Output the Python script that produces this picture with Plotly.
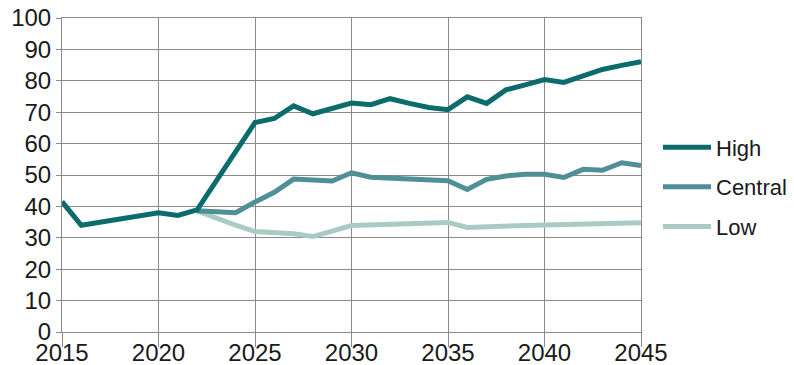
import plotly.graph_objects as go

# Scenario series (index values by year)
years_high = [2015, 2016, 2020, 2021, 2022, 2025, 2026, 2027, 2028, 2029, 2030,
              2031, 2032, 2033, 2034, 2035, 2036, 2037, 2038, 2039, 2040,
              2041, 2042, 2043, 2044, 2045]
high = [41.5, 34.0, 38.0, 37.1, 38.9, 66.7, 68.0, 72.0, 69.5, 71.3, 72.9,
        72.4, 74.3, 72.8, 71.5, 70.8, 74.9, 72.8, 77.1, 78.7, 80.4,
        79.5, 81.6, 83.6, 84.9, 86.1]

years_central = [2022, 2023, 2024, 2025, 2026, 2027, 2028, 2029, 2030, 2031,
                 2035, 2036, 2037, 2038, 2039, 2040, 2041, 2042, 2043, 2044, 2045]
central = [38.6, 38.2, 38.0, 41.4, 44.5, 48.7, 48.5, 48.1, 50.7, 49.3,
           48.2, 45.4, 48.6, 49.7, 50.2, 50.2, 49.2, 51.8, 51.5, 53.9, 53.0]

years_low = [2022, 2023, 2024, 2025, 2026, 2027, 2028, 2029, 2030, 2035,
             2036, 2040, 2045]
low = [38.6, 36.2, 34.0, 32.0, 31.7, 31.3, 30.4, 32.2, 33.9, 34.9,
       33.3, 34.1, 34.8]

x_ticks = [2015, 2020, 2025, 2030, 2035, 2040, 2045]
y_ticks = [0, 10, 20, 30, 40, 50, 60, 70, 80, 90, 100]

GRID = "#8a8a8a"
FONT = "Liberation Sans, Arial, sans-serif"
SIZE = 24

fig = go.Figure()
# Low first so the darker scenarios sit on top
fig.add_trace(go.Scatter(x=years_low, y=low, name="Low", mode="lines",
                         line=dict(color="#a9cbc5", width=5),
                         legendgroup="low", legendrank=3))
fig.add_trace(go.Scatter(x=years_central, y=central, name="Central", mode="lines",
                         line=dict(color="#4f8f95", width=5),
                         legendgroup="central", legendrank=2))
fig.add_trace(go.Scatter(x=years_high, y=high, name="High", mode="lines",
                         line=dict(color="#0b6b6d", width=5),
                         legendgroup="high", legendrank=1))

fig.update_layout(
    width=794, height=365,
    margin=dict(l=62, r=153, t=18, b=33),
    paper_bgcolor="white", plot_bgcolor="white",
    font=dict(family=FONT, size=SIZE, color="#1a1a1a"),
    legend=dict(xref="container", yref="container", x=0.8287, y=0.488,
                xanchor="left", yanchor="middle",
                font=dict(size=22), tracegroupgap=8,
                itemwidth=48, bgcolor="rgba(0,0,0,0)"),
    xaxis=dict(range=[2015, 2045], tickvals=x_ticks, showgrid=True,
               gridcolor=GRID, gridwidth=1, ticks="outside", ticklen=14,
               tickcolor=GRID, showline=True, mirror=True, linecolor=GRID,
               linewidth=1, zeroline=False, tickfont=dict(size=SIZE),
               automargin=False, ticklabelstandoff=-15),
    yaxis=dict(range=[0, 100], tickvals=y_ticks, showgrid=True,
               gridcolor=GRID, gridwidth=1, ticks="outside", ticklen=5,
               tickcolor=GRID, showline=True, mirror=True, linecolor=GRID,
               linewidth=1, zeroline=False, tickfont=dict(size=SIZE),
               automargin=False),
)

fig.write_html("out.html")
